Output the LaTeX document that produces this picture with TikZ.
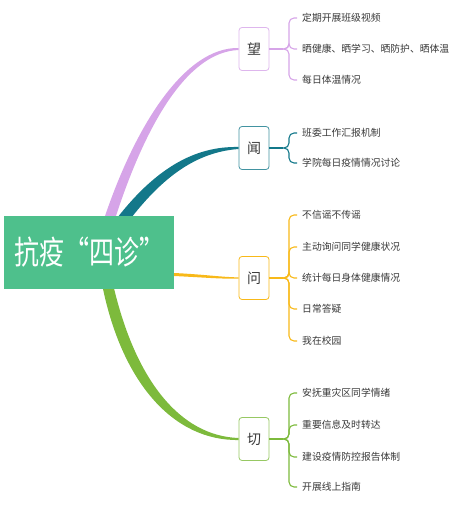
\documentclass[tikz,border=0pt]{standalone}
\usepackage{fontspec}
\setmainfont{Noto Sans CJK SC}
\usepackage{graphicx}
\usetikzlibrary{backgrounds}

\definecolor{rootc}{HTML}{4EC08C}
\definecolor{lookc}{HTML}{D6A4E8}
\definecolor{listenc}{HTML}{13788A}
\definecolor{askc}{HTML}{F8B919}
\definecolor{feelc}{HTML}{7DBA3C}
\definecolor{textc}{HTML}{383838}

\begin{document}
\begin{tikzpicture}[x=1pt, y=-1pt,
  branch/.style={draw, rounded corners=3pt, fill=white, line width=0.8pt,
    minimum width=30pt, minimum height=43pt, inner sep=0pt, text=textc,
    font=\fontsize{14}{14}\selectfont},
  leaf/.style={anchor=west, inner xsep=5pt, inner ysep=1pt, text=textc,
    font=\fontsize{9.8}{10}\selectfont},
  brace/.style={line width=1.1pt, rounded corners=5pt}]
  \useasboundingbox (0,0) rectangle (453,505);

  % Central topic
  \node[fill=rootc, minimum width=170pt, minimum height=73pt, inner sep=0pt,
    text=white, font=\fontsize{25}{25}\selectfont] (root) at (89,252.5)
    {\scalebox{1}[1.3]{抗疫“四诊”}};

  % Four diagnoses
  \node[branch, draw=lookc!80] (look) at (254,49) {望};
  \node[branch, draw=listenc!80] (listen) at (254,148) {闻};
  \node[branch, draw=askc] (ask) at (254,278) {问};
  \node[branch, draw=feelc!80] (feel) at (254,439) {切};

  % Tapered main branches
  \begin{scope}[on background layer]
    \fill[lookc] (103,222) .. controls (135,125) and (185,47) .. ([yshift=1]look.west)
      -- ([yshift=-1]look.west) .. controls (187,52) and (145,125) .. (114,222) -- cycle;
    \fill[listenc] (114,222) .. controls (155,168) and (195,146) .. ([yshift=1]listen.west)
      -- ([yshift=-1]listen.west) .. controls (197,152) and (163,176) .. (128,222) -- cycle;
    \fill[askc] ([yshift=-20.5]root.east) .. controls (205,274.5) and (220,277) .. ([yshift=0.6]ask.west)
      -- ([yshift=-0.6]ask.west) .. controls (220,279) and (205,277.5) .. ([yshift=-23.5]root.east) -- cycle;
    \fill[feelc] (102,284) .. controls (122,385) and (175,441) .. ([yshift=-1]feel.west)
      -- ([yshift=1]feel.west) .. controls (180,436) and (135,380) .. (113,284) -- cycle;
  \end{scope}

  % Leaves of 望
  \foreach \t/\y [count=\i] in {定期开展班级视频/18, 晒健康、晒学习、晒防护、晒体温/49, 每日体温情况/80}
    \node[leaf] (look\i) at (297,\y) {\t};
  \draw[lookc, line width=1.1pt] (look.east) -- ++(14,0) coordinate (lookj);
  \foreach \i in {1,2,3}
    \draw[lookc, brace] (lookj) -| ([xshift=-8]look\i.west) -- (look\i.west);

  % Leaves of 闻
  \foreach \t/\y [count=\i] in {班委工作汇报机制/133, 学院每日疫情情况讨论/163}
    \node[leaf] (listen\i) at (297,\y) {\t};
  \draw[listenc, line width=1.1pt] (listen.east) -- ++(14,0) coordinate (listenj);
  \foreach \i in {1,2}
    \draw[listenc, brace] (listenj) -| ([xshift=-8]listen\i.west) -- (listen\i.west);

  % Leaves of 问
  \foreach \t/\y [count=\i] in {不信谣不传谣/215, 主动询问同学健康状况/247, 统计每日身体健康情况/278,
      日常答疑/309, 我在校园/341}
    \node[leaf] (ask\i) at (297,\y) {\t};
  \draw[askc, line width=1.1pt] (ask.east) -- ++(14,0) coordinate (askj);
  \foreach \i in {1,...,5}
    \draw[askc, brace] (askj) -| ([xshift=-8]ask\i.west) -- (ask\i.west);

  % Leaves of 切
  \foreach \t/\y [count=\i] in {安抚重灾区同学情绪/393, 重要信息及时转达/425, 建设疫情防控报告体制/457,
      开展线上指南/487}
    \node[leaf] (feel\i) at (297,\y) {\t};
  \draw[feelc, line width=1.1pt] (feel.east) -- ++(14,0) coordinate (feelj);
  \foreach \i in {1,...,4}
    \draw[feelc, brace] (feelj) -| ([xshift=-8]feel\i.west) -- (feel\i.west);
\end{tikzpicture}
\end{document}
